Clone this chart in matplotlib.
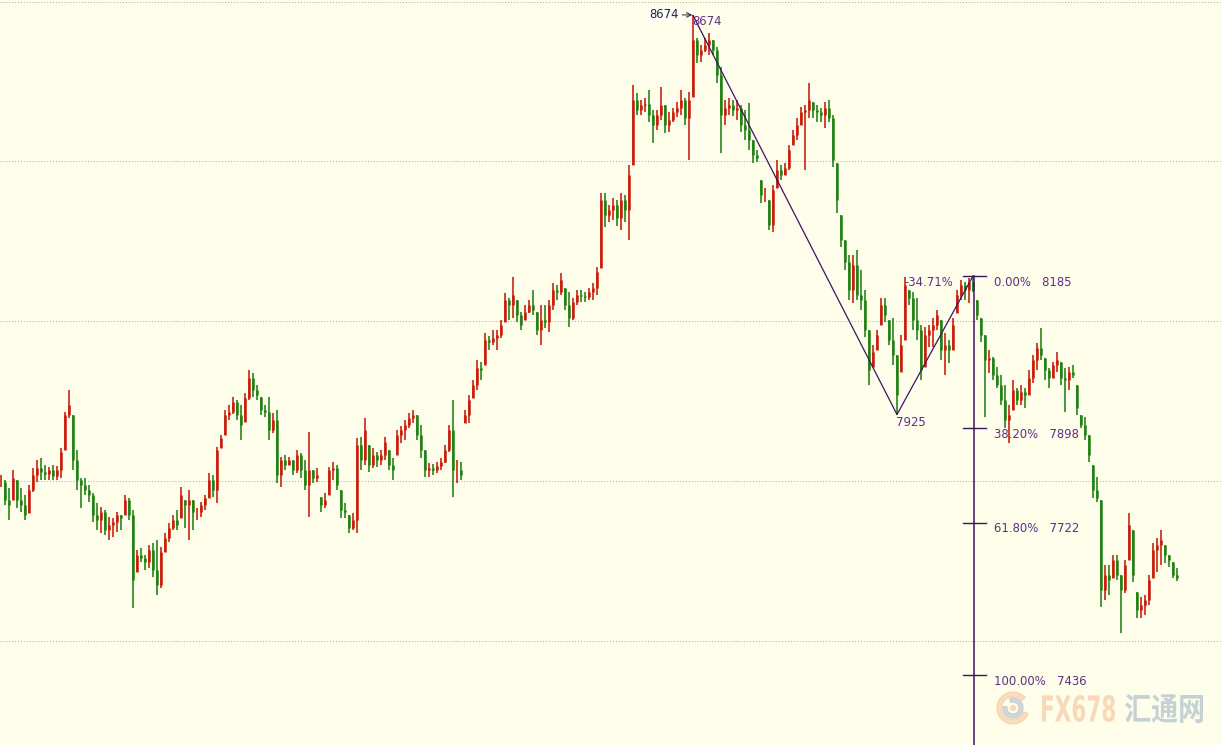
import matplotlib
matplotlib.use("Agg")
import matplotlib.pyplot as plt
from matplotlib.patches import Wedge, Circle, PathPatch
from matplotlib.textpath import TextPath
from matplotlib.font_manager import FontProperties
from matplotlib.transforms import Affine2D

# daily candles (price units)
highs = [7811, 7802, 7787, 7821, 7802, 7787, 7774, 7793, 7825, 7840,
         7843, 7830, 7826, 7830, 7828, 7862, 7930, 7971, 7924, 7858,
         7806, 7806, 7793, 7778, 7759, 7751, 7746, 7733, 7731, 7742,
         7736, 7774, 7768, 7746, 7671, 7674, 7661, 7680, 7684, 7689,
         7676, 7703, 7721, 7736, 7746, 7789, 7765, 7783, 7765, 7750,
         7761, 7774, 7815, 7811, 7864, 7887, 7933, 7943, 7958, 7952,
         7943, 7965, 8009, 8003, 7980, 7958, 7943, 7958, 7928, 7933,
         7845, 7849, 7845, 7840, 7858, 7853, 7840, 7892, 7821, 7825,
         7770, 7778, 7826, 7836, 7830, 7783, 7759, 7736, 7740, 7881,
         7883, 7918, 7868, 7862, 7855, 7858, 7883, 7858, 7843, 7896,
         7903, 7915, 7928, 7933, 7924, 7905, 7858, 7834, 7832, 7836,
         7843, 7868, 7905, 7952, 7840, 7836, 7933, 7962, 7990, 8027,
         8024, 8078, 8072, 8084, 8084, 8102, 8153, 8144, 8183, 8140,
         8117, 8131, 8140, 8159, 8117, 8131, 8131, 8140, 8172, 8168,
         8191, 8162, 8155, 8144, 8159, 8159, 8155, 8162, 8172, 8202,
         8341, 8341, 8318, 8331, 8328, 8341, 8337, 8393, 8543, 8528,
         8515, 8519, 8534, 8497, 8497, 8540, 8506, 8493, 8500, 8511,
         8534, 8519, 8530, 8674, 8632, 8619, 8632, 8641, 8628, 8615,
         8577, 8515, 8519, 8515, 8515, 8506, 8497, 8510, 8440, 8421,
         8365, 8350, 8328, 8356, 8403, 8393, 8397, 8431, 8459, 8481,
         8502, 8506, 8547, 8511, 8506, 8500, 8511, 8515, 8487, 8397,
         8299, 8253, 8224, 8224, 8234, 8196, 8159, 8084, 8055, 8084,
         8144, 8144, 8102, 8106, 8037, 8074, 8183, 8159, 8155, 8144,
         8093, 8089, 8093, 8106, 8121, 8102, 8078, 8065, 8106, 8159,
         8177, 8174, 8181, 8185, 8140, 8106, 8074, 8046, 8033, 8014,
         7999, 7980, 7943, 7990, 7975, 7980, 7975, 8009, 8037, 8059,
         8087, 8031, 8012, 8024, 8042, 8024, 8012, 8014, 8018, 7980,
         7924, 7920, 7887, 7830, 7808, 7765, 7643, 7643, 7661, 7661,
         7624, 7652, 7740, 7708, 7592, 7582, 7586, 7624, 7684, 7693,
         7708, 7680, 7661, 7648, 7637]

lows = [7789, 7755, 7727, 7765, 7750, 7742, 7727, 7740, 7780, 7798,
        7802, 7802, 7802, 7802, 7802, 7806, 7858, 7918, 7821, 7783,
        7750, 7774, 7761, 7723, 7708, 7703, 7699, 7689, 7695, 7704,
        7708, 7736, 7727, 7562, 7629, 7648, 7633, 7637, 7620, 7586,
        7599, 7667, 7686, 7708, 7708, 7731, 7712, 7689, 7708, 7727,
        7733, 7746, 7768, 7770, 7759, 7862, 7887, 7915, 7926, 7915,
        7877, 7911, 7952, 7958, 7952, 7924, 7920, 7877, 7890, 7796,
        7789, 7821, 7830, 7811, 7815, 7806, 7783, 7733, 7796, 7798,
        7742, 7750, 7774, 7802, 7783, 7731, 7731, 7703, 7708, 7703,
        7821, 7830, 7817, 7825, 7826, 7830, 7840, 7821, 7802, 7849,
        7872, 7877, 7900, 7909, 7877, 7843, 7808, 7808, 7811, 7815,
        7821, 7834, 7855, 7770, 7796, 7802, 7909, 7909, 7956, 7971,
        7990, 8018, 8046, 8055, 8046, 8069, 8099, 8102, 8106, 8099,
        8084, 8102, 8116, 8112, 8074, 8055, 8087, 8080, 8121, 8140,
        8149, 8121, 8089, 8102, 8131, 8136, 8136, 8140, 8140, 8149,
        8200, 8277, 8286, 8290, 8279, 8271, 8286, 8253, 8393, 8487,
        8487, 8493, 8474, 8435, 8459, 8478, 8453, 8455, 8474, 8483,
        8487, 8468, 8403, 8521, 8585, 8587, 8605, 8600, 8600, 8547,
        8416, 8468, 8487, 8485, 8478, 8455, 8440, 8421, 8397, 8399,
        8322, 8324, 8271, 8268, 8350, 8365, 8375, 8384, 8431, 8440,
        8468, 8384, 8481, 8481, 8474, 8474, 8463, 8474, 8390, 8303,
        8239, 8196, 8140, 8134, 8140, 8121, 8071, 7980, 8014, 8046,
        8093, 8099, 8055, 8018, 7925, 8005, 8065, 8131, 8084, 8065,
        7990, 8014, 8052, 8052, 8084, 8027, 7999, 8022, 8046, 8116,
        8140, 8140, 8134, 8155, 8102, 8061, 7920, 8003, 7990, 7975,
        7943, 7900, 7872, 7933, 7943, 7943, 7937, 7962, 7984, 8009,
        8027, 7990, 7975, 7994, 8005, 7980, 7930, 7971, 7994, 7924,
        7900, 7877, 7836, 7768, 7761, 7564, 7577, 7586, 7618, 7614,
        7515, 7590, 7652, 7610, 7543, 7543, 7549, 7567, 7618, 7629,
        7643, 7646, 7639, 7618, 7612]

closes = [7798, 7765, 7755, 7806, 7765, 7755, 7736, 7783, 7811, 7825,
          7817, 7813, 7821, 7810, 7821, 7855, 7924, 7943, 7840, 7802,
          7793, 7783, 7774, 7736, 7727, 7742, 7708, 7718, 7723, 7736,
          7731, 7765, 7736, 7614, 7661, 7656, 7648, 7671, 7633, 7605,
          7667, 7693, 7712, 7727, 7718, 7774, 7755, 7765, 7742, 7742,
          7755, 7768, 7802, 7783, 7858, 7881, 7924, 7930, 7948, 7924,
          7905, 7956, 7994, 7971, 7962, 7933, 7930, 7896, 7915, 7811,
          7840, 7830, 7840, 7821, 7849, 7821, 7793, 7821, 7806, 7811,
          7755, 7765, 7821, 7825, 7793, 7746, 7742, 7712, 7727, 7868,
          7840, 7896, 7830, 7849, 7840, 7849, 7873, 7830, 7821, 7887,
          7896, 7905, 7918, 7924, 7887, 7858, 7821, 7825, 7821, 7828,
          7836, 7858, 7896, 7821, 7821, 7811, 7924, 7952, 7980, 8012,
          8009, 8065, 8061, 8069, 8074, 8093, 8140, 8131, 8149, 8112,
          8093, 8117, 8131, 8121, 8084, 8102, 8099, 8131, 8159, 8155,
          8177, 8131, 8106, 8136, 8149, 8147, 8146, 8155, 8162, 8192,
          8328, 8299, 8309, 8318, 8294, 8328, 8309, 8375, 8515, 8497,
          8506, 8508, 8487, 8468, 8487, 8506, 8468, 8478, 8493, 8500,
          8515, 8481, 8515, 8628, 8600, 8609, 8619, 8628, 8609, 8562,
          8487, 8500, 8506, 8497, 8500, 8468, 8459, 8440, 8412, 8406,
          8337, 8337, 8281, 8346, 8384, 8375, 8388, 8421, 8450, 8468,
          8493, 8497, 8515, 8497, 8493, 8487, 8500, 8481, 8403, 8328,
          8253, 8211, 8159, 8206, 8149, 8140, 8084, 8009, 8042, 8074,
          8131, 8112, 8065, 8037, 7962, 8055, 8168, 8144, 8102, 8084,
          8009, 8074, 8084, 8093, 8112, 8046, 8055, 8046, 8093, 8149,
          8168, 8159, 8174, 8159, 8112, 8074, 8027, 8031, 7999, 7980,
          7952, 7915, 7924, 7971, 7952, 7967, 7962, 7994, 8027, 8050,
          8037, 8009, 7994, 8018, 8027, 7994, 7990, 8005, 7999, 7937,
          7905, 7887, 7849, 7783, 7768, 7596, 7624, 7614, 7652, 7624,
          7596, 7643, 7718, 7624, 7558, 7567, 7577, 7614, 7671, 7680,
          7689, 7661, 7652, 7624, 7618]

# swing points used by the zigzag / fibonacci tool
swing_high = 8674
swing_low = 7925
swing_end = 8185
fib_ratios = [0.0, 0.382, 0.618, 1.0]
grid_prices = [7500, 7800, 8100, 8400, 8700]

bg = '#fefeea'
up_col = '#c81a0a'
dn_col = '#1f7f12'
tool_col = '#3d1460'
label_col = '#5e2e82'

fig = plt.figure(figsize=(12.22, 7.45), dpi=100, facecolor=bg)
ax = fig.add_axes([0, 0, 1, 1])
ax.set_facecolor(bg)
ax.set_axis_off()

ymin, ymax = 7304.7, 8703
ax.set_xlim(-0.25, 305.25)
ax.set_ylim(ymin, ymax)

for p in grid_prices:
    ax.axhline(p, color='#a9a99c', lw=0.7, ls=(0, (1, 2)), zorder=0)

# candles (open taken as previous close)
opens = [closes[0]] + closes[:-1]
xs = list(range(len(closes)))
cols = [up_col if c >= o else dn_col for o, c in zip(opens, closes)]
body_lo = [max(min(o, c), l) for o, c, l in zip(opens, closes, lows)]
body_hi = [min(max(o, c), h) for o, c, h in zip(opens, closes, highs)]
ax.vlines(xs, lows, highs, colors=cols, linewidth=1.15, zorder=2)
ax.vlines(xs, body_lo, body_hi, colors=cols, linewidth=1.8, zorder=2)

i_high = highs.index(swing_high)
i_low = lows.index(swing_low)
i_end = highs.index(swing_end)

# zigzag
ax.plot([i_high, i_low, i_end], [swing_high, swing_low, swing_end],
        color=tool_col, lw=0.9, zorder=3)

# fibonacci projection
span = swing_high - swing_low
xv = i_end + 0.25
ax.plot([xv, xv], [swing_end, ymin], color=tool_col, lw=1.1, zorder=3)
for r in fib_ratios:
    lvl = swing_end - r * span
    ax.plot([xv - 2.75, xv + 3.0], [lvl, lvl], color=tool_col, lw=1.0, zorder=3)
    ax.annotate(f"{r * 100:.2f}%   {int(lvl)}", xy=(xv + 5, lvl),
                xytext=(0, -4.6), textcoords='offset points',
                ha='left', va='center', fontsize=8.4, color=label_col)

ret = -(swing_end - swing_low) / span * 100
ax.annotate(f"{ret:.2f}%", xy=(i_end, swing_end), xytext=(-14.4, -5),
            textcoords='offset points', ha='right', va='center',
            fontsize=8.4, color=label_col)
ax.annotate(str(swing_low), xy=(i_low, swing_low), xytext=(-0.7, -5.8),
            textcoords='offset points', ha='left', va='center',
            fontsize=8.4, color=label_col)
ax.annotate(str(swing_high), xy=(i_high, swing_high), xytext=(-0.7, -4.7),
            textcoords='offset points', ha='left', va='center',
            fontsize=8.4, color=label_col)
ax.annotate(str(swing_high), xy=(i_high - 0.2, swing_high + 1),
            xytext=(-9.4, 0), textcoords='offset points',
            ha='right', va='center', fontsize=8.4, color='#1c2541',
            bbox=dict(boxstyle='square,pad=0.15', fc='white', ec='none', alpha=0.5),
            arrowprops=dict(arrowstyle='->', color='#1c2541', lw=0.7,
                            shrinkA=1, shrinkB=0))

# watermark (drawn in inches from the lower left corner)
tr = fig.dpi_scale_trans
fig.patches.append(Wedge((10.13, 0.37), 0.16, 40, 340, width=0.045,
                         color='#f5c7a1', alpha=0.6, transform=tr, figure=fig))
fig.patches.append(Wedge((10.13, 0.37), 0.10, 170, 470, width=0.04,
                         color='#b6c1cb', alpha=0.6, transform=tr, figure=fig))
fig.patches.append(Circle((10.13, 0.37), 0.025, color='#f5c7a1', alpha=0.6,
                          transform=tr, figure=fig))


def fit_text(s, prop, box, color):
    tp = TextPath((0, 0), s, size=1, prop=prop)
    ext = tp.get_extents()
    x0, y0, x1, y1 = box
    t = (Affine2D().translate(-ext.x0, -ext.y0)
         .scale((x1 - x0) / ext.width, (y1 - y0) / ext.height)
         .translate(x0, y0))
    fig.patches.append(PathPatch(t.transform_path(tp), fc=color, ec='none',
                                 alpha=0.6, transform=tr, figure=fig))


fit_text("FX678", FontProperties(family='DejaVu Sans', weight='bold'),
         (10.42, 0.23, 11.15, 0.50), '#f6bf95')
fit_text("汇通网", FontProperties(family='Noto Sans CJK SC', weight='bold'),
         (11.25, 0.22, 12.03, 0.51), '#9fb4c8')

fig.savefig('out.png', dpi=100, facecolor=bg)
